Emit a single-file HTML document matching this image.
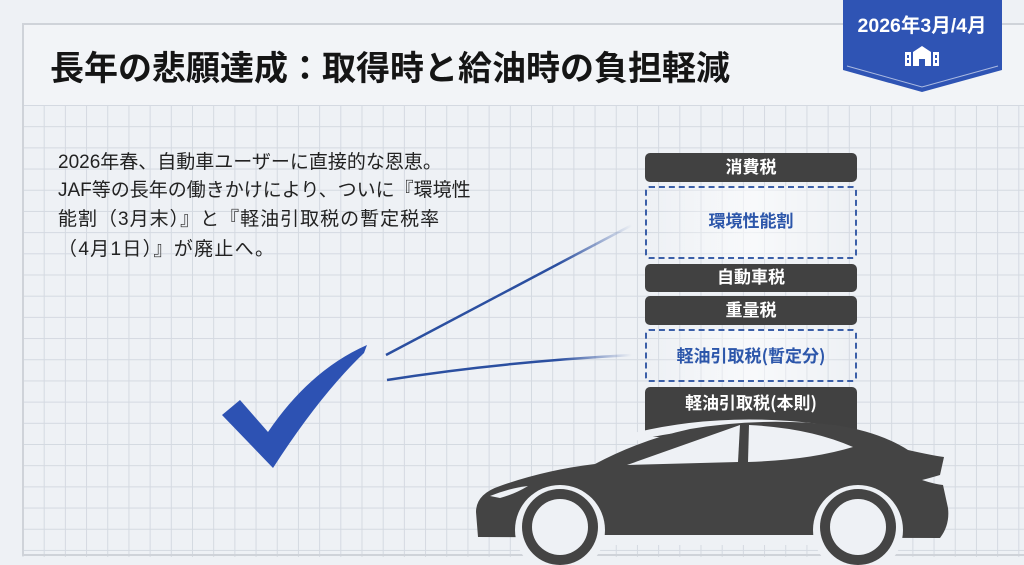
<!DOCTYPE html>
<html><head><meta charset="utf-8"><style>
html,body{margin:0;padding:0}
body{width:1024px;height:565px;position:relative;overflow:hidden;background:#eef1f5;font-family:"Liberation Sans","Noto Sans CJK JP",sans-serif}
.grid{position:absolute;left:22px;top:105px;width:1002px;height:452px;
background-image:linear-gradient(to right,#d4d9e1 1px,transparent 1px),linear-gradient(to bottom,#d4d9e1 1px,transparent 1px);
background-size:21.2px 21.2px;background-position:0.5px 0}
.frame{position:absolute;left:22px;top:23px;width:1010px;height:533px;border:2px solid #cfd3d9;border-right:none;box-sizing:border-box}
.hdr{position:absolute;left:23px;top:24px;width:1001px;height:81px;background:#f2f4f7;border-bottom:1px solid #d4d9e1}
.title{position:absolute;left:50px;top:41px;font-size:34px;font-weight:bold;color:#151515;white-space:nowrap;letter-spacing:0}
.txt{position:absolute;left:58px;top:149px;font-size:19px;line-height:27.5px;color:#222;white-space:nowrap}
.j{font-family:"Noto Sans CJK JP",sans-serif}
.box{position:absolute;left:645px;width:212px;box-sizing:border-box;text-align:center;font-weight:bold}
.dk{background:#414141;color:#fff;border-radius:5px;font-size:17px}
.ds{border:2.5px dashed #3b5fa8;border-radius:4px;color:#2c56aa;font-size:17px;background:linear-gradient(to right,rgba(255,255,255,0),rgba(255,255,255,.6) 50%,rgba(255,255,255,0))}
</style></head><body>
<div class="grid"></div>
<div class="hdr"></div>
<div class="frame"></div>
<div class="title">長年の悲願達成<span class="j">：</span>取得時と給油時の負担軽減</div>
<div class="txt">2026年春、自動車ユーザーに直接的な恩恵。<br>JAF等の長年の働きかけにより、ついに『環境性<br><span style="letter-spacing:1px">能割<span class="j">（</span>3月末<span class="j">）</span>』と『軽油引取税の暫定税率</span><br><span style="letter-spacing:1.3px"><span class="j">（</span>4月1日<span class="j">）</span>』が廃止へ。</span></div>

<svg width="1024" height="565" style="position:absolute;left:0;top:0">
<defs>
<linearGradient id="g1" x1="385" y1="355" x2="632" y2="225" gradientUnits="userSpaceOnUse"><stop offset="0" stop-color="#2b4fa0"/><stop offset=".7" stop-color="#2b4fa0"/><stop offset="1" stop-color="#2b4fa0" stop-opacity="0"/></linearGradient>
<linearGradient id="g2" x1="387" y1="380" x2="632" y2="355" gradientUnits="userSpaceOnUse"><stop offset="0" stop-color="#2b4fa0"/><stop offset=".7" stop-color="#2b4fa0"/><stop offset="1" stop-color="#2b4fa0" stop-opacity="0"/></linearGradient>
</defs>
<line x1="386" y1="355" x2="632" y2="225" stroke="url(#g1)" stroke-width="2.5"/>
<path d="M387 380 Q500 362 632 355" stroke="url(#g2)" stroke-width="2.5" fill="none"/>
<path d="M222 415 L240 400 L268 432 Q310 370 367 345 L364 353 Q320 395 273 468 Z" fill="#2d52b3"/>
<polygon points="843,0 1002,0 1002,70 922,92 843,70" fill="#2f54b4"/>
<polyline points="847,66 922,87 998,66" fill="none" stroke="#fff" stroke-opacity=".6" stroke-width="1"/>
<text x="922" y="32" text-anchor="middle" fill="#fff" font-size="19.5" font-weight="bold" font-family="Liberation Sans, Noto Sans CJK JP, sans-serif">2026年3月/4月</text>
<g fill="#fff">
<polygon points="913,52 922,46 931,52 931,66 925,66 925,59 919,59 919,66 913,66"/>
<rect x="905" y="52" width="6" height="14"/><rect x="933" y="52" width="6" height="14"/>
</g>
<g fill="#2f54b4"><rect x="907" y="55" width="2" height="3"/><rect x="907" y="60" width="2" height="3"/><rect x="935" y="55" width="2" height="3"/><rect x="935" y="60" width="2" height="3"/></g>
</svg>

<div class="box dk" style="top:153px;height:29px;line-height:29px">消費税</div>
<div class="box ds" style="top:186px;height:73px;line-height:68px">環境性能割</div>
<div class="box dk" style="top:264px;height:28px;line-height:28px">自動車税</div>
<div class="box dk" style="top:296px;height:29px;line-height:29px">重量税</div>
<div class="box ds" style="top:329px;height:53px;line-height:48px">軽油引取税<span class="j">(</span>暫定分<span class="j">)</span></div>
<div class="box dk" style="top:387px;height:50px;line-height:30px;border-radius:5px 5px 0 0">軽油引取税<span class="j">(</span>本則<span class="j">)</span></div>

<svg width="1024" height="565" style="position:absolute;left:0;top:0">
<path d="M630 438 Q740 410 868 436" stroke="#eef1f5" stroke-width="8" fill="none"/>
<path d="M478 537 L476 512 Q476 494 500 486 Q545 470 595 464 Q640 440 690 429 Q760 417 835 425 Q880 432 908 450 Q930 455 944 457 L940 475 Q930 478 922 480 Q934 484 943 485 L948 508 Q950 525 940 538 Z" fill="#444"/>
<path d="M627 465 L740 425 L738 462 Z" fill="#eef1f5"/>
<path d="M749 425 Q810 428 853 447 Q810 460 748 462 Z" fill="#eef1f5"/>
<path d="M490 496 Q510 488 528 486 Q515 494 500 498 Z" fill="#eef1f5"/>
<circle cx="560" cy="530" r="45" fill="#eef1f5"/>
<circle cx="858" cy="530" r="45" fill="#eef1f5"/>
<rect x="600" y="535" width="220" height="10" fill="#eef1f5"/>
<circle cx="560" cy="527" r="38" fill="#444"/>
<circle cx="560" cy="527" r="28" fill="#eef1f5"/>
<circle cx="858" cy="527" r="38" fill="#444"/>
<circle cx="858" cy="527" r="28" fill="#eef1f5"/>
</svg>
</body></html>
